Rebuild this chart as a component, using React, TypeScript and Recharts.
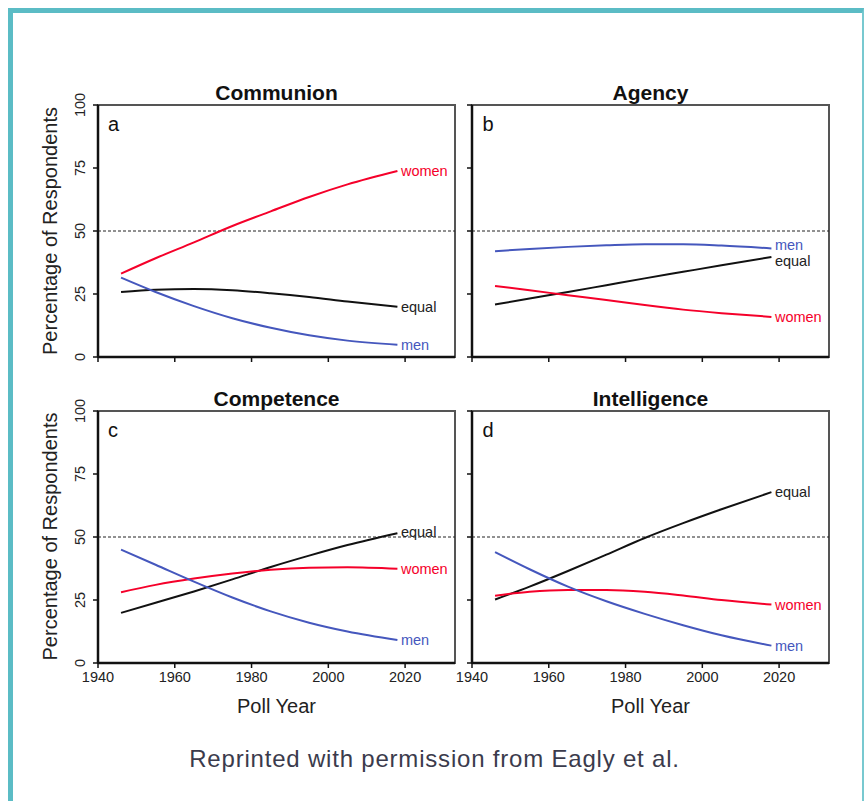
import React from "react";
import {
  LineChart,
  Line,
  XAxis,
  YAxis,
  ReferenceLine,
  ReferenceArea,
  LabelList,
} from "recharts";

const years = [1946, 1955, 1965, 1975, 1985, 1995, 2005, 2018];

const communionWomen = [33.1, 39.2, 45.5, 52, 57.8, 63.5, 68.5, 73.8];
const communionEqual = [25.8, 26.7, 27, 26.5, 25.3, 23.8, 22, 19.9];
const communionMen = [31.5, 25.8, 20.2, 15.4, 11.6, 8.6, 6.5, 4.9];

const agencyMen = [42, 42.9, 43.7, 44.3, 44.7, 44.7, 44.2, 43.1];
const agencyEqual = [20.8, 23.2, 25.8, 28.5, 31.2, 33.8, 36.4, 39.7];
const agencyWomen = [28.2, 26.5, 24.5, 22.6, 20.6, 18.8, 17.4, 15.9];

const competenceEqual = [19.9, 23.9, 28.4, 33.2, 38.1, 42.6, 46.8, 51.5];
const competenceWomen = [28.1, 31, 33.5, 35.5, 37, 37.8, 38, 37.4];
const competenceMen = [45, 39, 32.3, 26, 20.5, 16, 12.5, 9.1];

const intelligenceEqual = [25.2, 30.3, 36.5, 43, 49.6, 55.5, 61, 67.8];
const intelligenceWomen = [26.7, 28.3, 29, 29, 28.3, 26.8, 25, 23.2];
const intelligenceMen = [44, 37.2, 30.3, 24.5, 19.5, 15, 11, 6.9];

const xTicks = [1940, 1960, 1980, 2000, 2020];
const yTicks = [0, 25, 50, 75, 100];

const FONT = '"Liberation Sans", Arial, Helvetica, sans-serif';
const RED = "#f5002a";
const BLUE = "#4557bd";
const BLACK = "#111111";

const BOX_W = 357;
const BOX_H = 252;
const PAD_L = 40;
const PAD_T = 20;
const PAD_R = 10;
const PAD_B = 30;

function rows(women: number[], men: number[], equal: number[]) {
  return years.map((year, i) => ({
    year,
    women: women[i],
    men: men[i],
    equal: equal[i],
  }));
}

const endLabel =
  (name: string, color: string, dy: number) =>
  (props: any) => {
    const { x, y, index } = props;
    if (index !== years.length - 1) return null;
    return (
      <text
        x={x + 3.5}
        y={y + dy}
        dominantBaseline="central"
        fill={color}
        fontSize={14.5}
        fontFamily={FONT}
      >
        {name}
      </text>
    );
  };

interface PanelProps {
  data: ReturnType<typeof rows>;
  left: number;
  top: number;
  xLabels: boolean;
  yLabels: boolean;
  offsets?: { women?: number; men?: number; equal?: number };
}

function Panel({ data, left, top, xLabels, yLabels, offsets = {} }: PanelProps) {
  const XTick = (p: any) =>
    xLabels ? (
      <text x={p.x} y={p.y} dy={12} textAnchor="middle" fontSize={14.5} fontFamily={FONT} fill="#222">
        {p.payload.value}
      </text>
    ) : (
      <g />
    );
  const YTick = (p: any) =>
    yLabels ? (
      <text
        x={p.x - 6}
        y={p.y}
        transform={`rotate(-90 ${p.x - 6} ${p.y})`}
        textAnchor="middle"
        fontSize={14.5}
        fontFamily={FONT}
        fill="#222"
      >
        {p.payload.value}
      </text>
    ) : (
      <g />
    );

  return (
    <div style={{ position: "absolute", left: left - PAD_L, top: top - PAD_T }}>
      <LineChart
        width={PAD_L + BOX_W + PAD_R}
        height={PAD_T + BOX_H + PAD_B}
        data={data}
        margin={{ top: PAD_T, right: PAD_R, bottom: 0, left: 0 }}
      >
        <XAxis
          dataKey="year"
          type="number"
          domain={[1940, 2033]}
          ticks={xTicks}
          height={PAD_B}
          tickSize={5}
          tickMargin={2}
          tick={XTick}
          axisLine={{ stroke: BLACK, strokeWidth: 2.5 }}
          tickLine={{ stroke: BLACK, strokeWidth: 1.5 }}
        />
        <YAxis
          type="number"
          domain={[0, 100]}
          ticks={yTicks}
          width={PAD_L}
          tickSize={5}
          tickMargin={2}
          tick={YTick}
          axisLine={{ stroke: BLACK, strokeWidth: 2.5 }}
          tickLine={{ stroke: BLACK, strokeWidth: 1.5 }}
        />
        <ReferenceArea
          x1={1940}
          x2={2033}
          y1={0}
          y2={100}
          fill="#ffffff"
          fillOpacity={0}
          stroke="#555"
          strokeWidth={2}
        />
        <ReferenceLine y={50} stroke="#222" strokeWidth={1} strokeDasharray="3 2" />
        <Line dataKey="equal" type="monotone" stroke={BLACK} strokeWidth={2} dot={false} isAnimationActive={false}>
          <LabelList dataKey="equal" content={endLabel("equal", "#222", offsets.equal ?? 0)} />
        </Line>
        <Line dataKey="women" type="monotone" stroke={RED} strokeWidth={2} dot={false} isAnimationActive={false}>
          <LabelList dataKey="women" content={endLabel("women", RED, offsets.women ?? 0)} />
        </Line>
        <Line dataKey="men" type="monotone" stroke={BLUE} strokeWidth={2} dot={false} isAnimationActive={false}>
          <LabelList dataKey="men" content={endLabel("men", BLUE, offsets.men ?? 0)} />
        </Line>
      </LineChart>
    </div>
  );
}

export default function App() {
  const titles = [
    { text: "Communion", x: 276.5, y: 100 },
    { text: "Agency", x: 650.5, y: 100 },
    { text: "Competence", x: 276.5, y: 405.5 },
    { text: "Intelligence", x: 650.5, y: 405.5 },
  ];
  const letters = [
    { text: "a", x: 108, y: 131 },
    { text: "b", x: 482.5, y: 131 },
    { text: "c", x: 108, y: 436.5 },
    { text: "d", x: 482.5, y: 436.5 },
  ];
  return (
    <div
      style={{
        position: "absolute",
        left: 0,
        top: 0,
        width: 867,
        height: 801,
        background: "#fff",
        overflow: "hidden",
        fontFamily: FONT,
      }}
    >
      <div
        style={{
          position: "absolute",
          left: 8,
          top: 8,
          width: 849,
          height: 820,
          borderLeft: "5px solid #5bbcc5",
          borderTop: "5px solid #5bbcc5",
          borderRight: "2px solid #78c9d0",
        }}
      />
      <Panel data={rows(communionWomen, communionMen, communionEqual)} left={98} top={105} xLabels={false} yLabels />
      <Panel
        data={rows(agencyWomen, agencyMen, agencyEqual)}
        left={472}
        top={105}
        xLabels={false}
        yLabels={false}
        offsets={{ men: -3, equal: 4 }}
      />
      <Panel
        data={rows(competenceWomen, competenceMen, competenceEqual)}
        left={98}
        top={410.5}
        xLabels
        yLabels
        offsets={{ equal: -1 }}
      />
      <Panel data={rows(intelligenceWomen, intelligenceMen, intelligenceEqual)} left={472} top={410.5} xLabels yLabels={false} />
      <svg
        width={867}
        height={801}
        style={{ position: "absolute", left: 0, top: 0, pointerEvents: "none" }}
        fontFamily={FONT}
      >
        {titles.map((t) => (
          <text key={t.text} x={t.x} y={t.y} textAnchor="middle" fontSize={21} fontWeight="bold" fill="#111">
            {t.text}
          </text>
        ))}
        {letters.map((t) => (
          <text key={t.text} x={t.x} y={t.y} fontSize={20} fill="#111">
            {t.text}
          </text>
        ))}
        <text x={57} y={231} transform="rotate(-90 57 231)" textAnchor="middle" fontSize={20} fill="#222">
          Percentage of Respondents
        </text>
        <text x={57} y={536.5} transform="rotate(-90 57 536.5)" textAnchor="middle" fontSize={20} fill="#222">
          Percentage of Respondents
        </text>
        <text x={276.5} y={713} textAnchor="middle" fontSize={20} fill="#222">
          Poll Year
        </text>
        <text x={650.5} y={713} textAnchor="middle" fontSize={20} fill="#222">
          Poll Year
        </text>
        <text x={434.5} y={767} textAnchor="middle" fontSize={24} letterSpacing={0.8} fill="#3b3b4c">
          Reprinted with permission from Eagly et al.
        </text>
      </svg>
    </div>
  );
}
